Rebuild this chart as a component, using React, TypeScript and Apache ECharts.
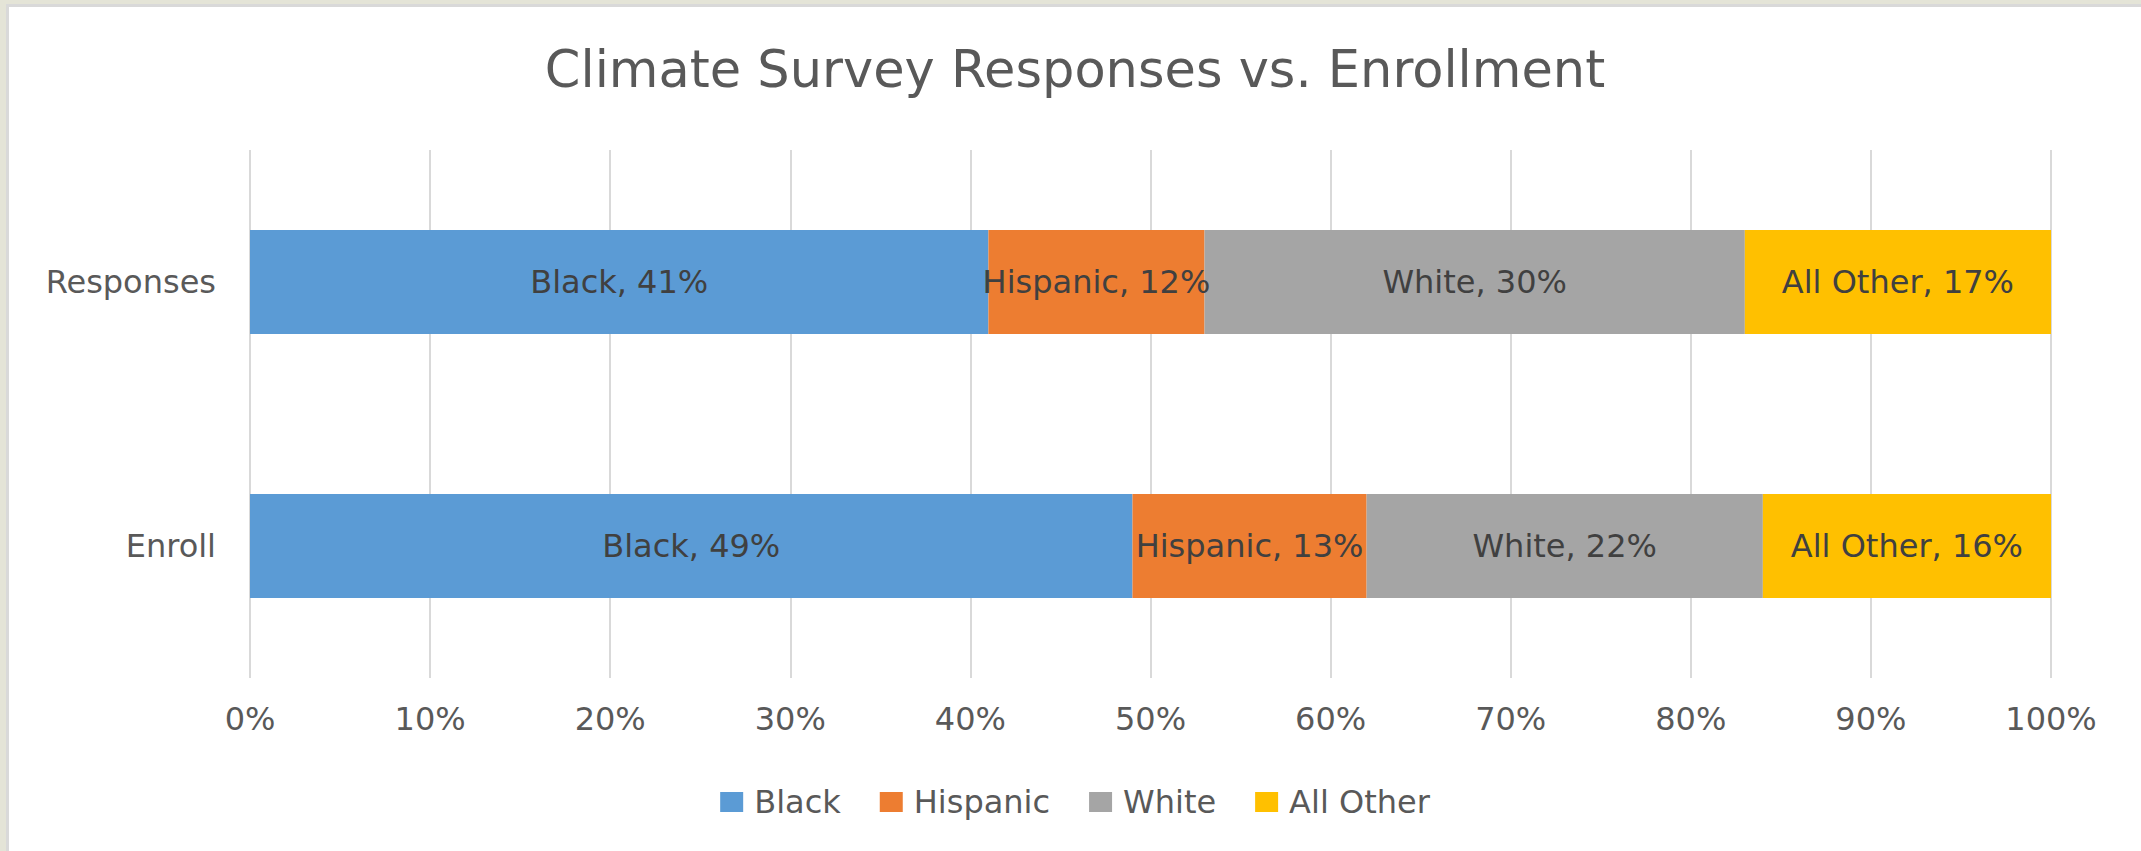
import React, { useEffect, useRef } from "react";
import * as echarts from "echarts";

const categories = ["Responses", "Enroll"];
const seriesNames = ["Black", "Hispanic", "White", "All Other"];
const black = [41, 49];
const hispanic = [12, 13];
const white = [30, 22];
const allOther = [17, 16];
const xTicks = [0, 10, 20, 30, 40, 50, 60, 70, 80, 90, 100];
const colors = ["#5B9BD5", "#ED7D31", "#A5A5A5", "#FFC000"];

const FONT = "DejaVu Sans";

export default function App() {
  const ref = useRef<HTMLDivElement>(null);
  useEffect(() => {
    if (!ref.current) return;
    const chart = echarts.init(ref.current, null, { renderer: "svg" });
    const values = [black, hispanic, white, allOther];
    chart.setOption({
      animation: false,
      backgroundColor: "#FFFFFF",
      title: {
        text: "Climate Survey Responses vs. Enrollment",
        left: "center",
        top: 32,
        textStyle: { fontFamily: FONT, fontSize: 51, fontWeight: "normal", color: "#595959" },
      },
      legend: {
        data: seriesNames,
        left: "center",
        top: 774,
        itemWidth: 23,
        itemHeight: 20,
        itemGap: 39,
        icon: "rect",
        textStyle: { fontFamily: FONT, fontSize: 32, color: "#595959", padding: [0, 0, 0, 6] },
      },
      grid: { left: 241, right: 90, top: 143, bottom: 173 },
      xAxis: {
        type: "value",
        min: xTicks[0],
        max: xTicks[xTicks.length - 1],
        interval: 10,
        axisLine: { show: false },
        axisTick: { show: false },
        axisLabel: {
          formatter: "{value}%",
          margin: 25,
          fontFamily: FONT,
          fontSize: 32,
          color: "#595959",
        },
        splitLine: { show: true, lineStyle: { color: "#D9D9D9", width: 2 } },
      },
      yAxis: {
        type: "category",
        data: categories,
        inverse: true,
        axisLine: { show: false },
        axisTick: { show: false },
        axisLabel: { margin: 34, fontFamily: FONT, fontSize: 32, color: "#595959" },
        splitLine: { show: false },
      },
      series: seriesNames.map((name, i) => ({
        name,
        type: "bar",
        stack: "total",
        data: values[i],
        barWidth: 104,
        itemStyle: { color: colors[i] },
        label: {
          show: true,
          position: "inside",
          formatter: "{a}, {c}%",
          fontFamily: FONT,
          fontSize: 32,
          color: "#404040",
        },
      })),
    });
    return () => chart.dispose();
  }, []);
  return (
    <div style={{ position: "fixed", left: 0, top: 0, width: 2141, height: 851, background: "#E4E4D7" }}>
      <div
        style={{
          position: "absolute",
          left: 6,
          top: 4,
          width: 2135,
          height: 847,
          background: "#D9D9D9",
        }}
      >
        <div ref={ref} style={{ position: "absolute", left: 3, top: 3, width: 2132, height: 844 }} />
      </div>
    </div>
  );
}
